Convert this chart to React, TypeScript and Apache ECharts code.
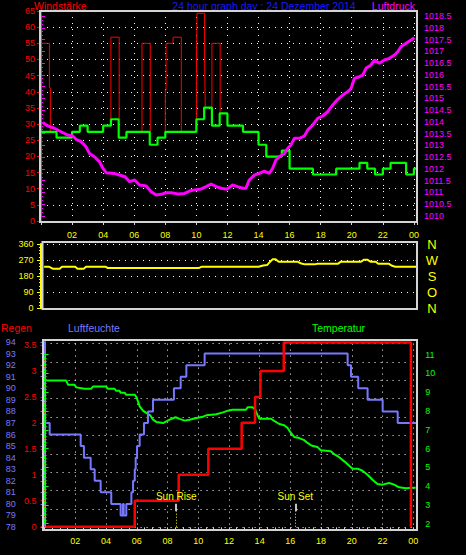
import React, { useEffect, useRef } from 'react';
import * as echarts from 'echarts';

// ---------- data (hours since midnight) ----------
const hourTicks = ['02', '04', '06', '08', '10', '12', '14', '16', '18', '20', '22', '00'];
const windTicks = [0, 5, 10, 15, 20, 25, 30, 35, 40, 45, 50, 55, 60, 65];
const directionLetters = ['N', 'O', 'S', 'W', 'N']; // 0, 90, 180, 270, 360

// Windstärke (mean, green step)
const windAvg: [number, number][] = [
  [0, 27.6], [1, 25.8], [2, 27.6], [2.5, 29.5], [3, 27.6], [4, 29.5], [4.5, 31.5], [5, 25.8],
  [5.5, 27.6], [7, 23.6], [7.5, 25.8], [8, 27.6], [10, 31.5], [10.5, 35.1], [11, 29.5],
  [11.5, 33.3], [12, 29.5], [13, 27.6], [14, 23.6], [14.5, 19.9], [15.5, 21.8], [16, 16.2],
  [17.5, 14.4], [19, 16.2], [20.5, 18.0], [21, 16.2], [21.5, 14.4], [22, 16.2], [22.5, 18.0],
  [23.5, 14.4], [24, 16.2], [24.2, 16.2],
];

// Windstärke gusts (red thin step), only the parts above the mean
const gustSegments: [number, number][][] = [
  [[0, 55], [0.54, 41.3], [0.6, 27.6]],
  [[4.5, 31.5], [4.5, 56.9], [5.03, 31.5]],
  [[6.5, 27.6], [6.5, 55], [7.03, 27.6]],
  [[8.0, 27.6], [8.0, 40.5], [8.05, 55], [8.5, 56.9], [9.03, 27.6]],
  [[10.0, 31.5], [10.0, 45.7], [10.04, 64.3], [10.53, 49.8], [10.57, 35.1]],
  [[11.0, 35.1], [11.0, 55], [11.53, 33.3]],
];

// Luftdruck (hPa)
const pressure: [number, number][] = [
  [0.11, 1013.97], [0.43, 1013.83], [0.86, 1013.73], [1.29, 1013.58], [1.72, 1013.44], [2.04, 1013.4],
  [2.26, 1013.26], [2.58, 1013.16], [2.9, 1012.94], [3.12, 1012.66], [3.44, 1012.52], [3.76, 1012.31],
  [3.98, 1012.03], [4.19, 1011.84], [4.73, 1011.81], [5.05, 1011.74], [5.41, 1011.67], [5.7, 1011.46],
  [6.02, 1011.53], [6.34, 1011.32], [6.77, 1011.28], [7.09, 1011.03], [7.41, 1010.89], [7.73, 1010.92],
  [8.05, 1010.99], [8.38, 1010.99], [8.81, 1010.94], [9.24, 1010.96], [9.56, 1011.06], [9.88, 1011.11],
  [10.31, 1011.15], [10.63, 1011.25], [10.95, 1011.36], [11.28, 1011.25], [11.6, 1011.18], [11.98, 1011.14],
  [12.33, 1011.32], [12.65, 1011.25], [12.98, 1011.18], [13.19, 1011.18], [13.4, 1011.53], [13.73, 1011.74],
  [14.05, 1011.81], [14.37, 1011.91], [14.69, 1011.81], [14.91, 1012.03], [15.12, 1012.38], [15.34, 1012.52],
  [15.66, 1012.66], [15.88, 1012.88], [16.09, 1013.02], [16.3, 1013.3], [16.62, 1013.3], [16.95, 1013.4],
  [17.17, 1013.66], [17.49, 1013.87], [17.81, 1014.15], [18.13, 1014.25], [18.45, 1014.43], [18.78, 1014.72],
  [19.1, 1014.96], [19.42, 1015.14], [19.74, 1015.28], [19.96, 1015.43], [20.17, 1015.85], [20.49, 1015.92],
  [20.71, 1015.99], [20.92, 1016.28], [21.24, 1016.42], [21.46, 1016.63], [21.78, 1016.49], [22.1, 1016.63],
  [22.42, 1016.7], [22.75, 1016.84], [22.96, 1016.98], [23.18, 1017.2], [23.5, 1017.34], [23.82, 1017.48],
  [24.03, 1017.58],
];

// Windrichtung (degrees)
const direction: [number, number][] = [
  [0.2, 233], [0.5, 233], [0.75, 222], [1.2, 222], [1.35, 233], [2.2, 233], [2.35, 222], [2.75, 222],
  [2.9, 233], [4.15, 233], [4.3, 225], [10.15, 225], [10.35, 233], [14.0, 233], [14.3, 240], [14.55, 242],
  [14.75, 261], [14.9, 274], [15.1, 274], [15.3, 261], [16.5, 261], [16.75, 251], [17.0, 246], [17.6, 246],
  [17.8, 249], [19.1, 249], [19.3, 261], [20.6, 261], [20.8, 272], [21.0, 272], [21.2, 261], [21.55, 261],
  [21.7, 249], [22.4, 249], [22.6, 238], [22.8, 233], [24.2, 233],
];

// Regen (mm, cumulative)
const rain: [number, number][] = [
  [0.1, 0], [5.87, 0.5], [8.73, 1.0], [10.66, 1.5], [12.83, 2.0], [13.7, 2.5], [14.05, 3.0],
  [15.57, 3.55], [23.85, 0],
];

// Luftfeuchte (%)
const humidity: [number, number][] = [
  [0.1, 87], [0.33, 86], [2.35, 85], [2.56, 84], [3.0, 83], [3.26, 82], [3.65, 81], [4.34, 80],
  [4.95, 79], [5.1, 80], [5.15, 79], [5.32, 80], [5.65, 81], [5.76, 82], [5.87, 83], [5.93, 84],
  [6.02, 85], [6.19, 86], [6.47, 87], [6.73, 88], [7.06, 89], [8.42, 90], [8.86, 91], [9.23, 92],
  [10.42, 93], [19.73, 92], [19.95, 91], [20.42, 90], [21.03, 89], [22.01, 88], [22.99, 87], [24.18, 87],
];

// Temperatur (°C)
const temperature: [number, number][] = [
  [0.1, 9.62], [1.41, 9.62], [1.52, 9.4], [1.95, 9.4], [2.06, 9.26], [2.6, 9.19], [3.04, 9.19], [3.15, 9.3],
  [4.02, 9.3], [4.1, 9.19], [4.56, 9.19], [4.65, 9.08], [4.88, 9.08], [4.95, 8.98], [5.21, 8.98], [5.3, 8.87],
  [5.86, 8.87], [5.97, 8.75], [6.08, 8.52], [6.19, 8.25], [6.4, 8.02], [6.62, 7.9], [6.88, 7.77], [7.06, 7.54],
  [7.27, 7.42], [7.71, 7.36], [8.14, 7.54], [8.53, 7.67], [8.79, 7.58], [9.12, 7.49], [9.44, 7.54], [9.88, 7.63],
  [10.31, 7.7], [10.53, 7.77], [11.18, 7.83], [11.61, 7.93], [11.94, 8.02], [12.24, 8.07], [13.11, 8.07],
  [13.22, 8.2], [13.54, 8.2], [13.72, 8.07], [13.87, 7.77], [13.98, 7.59], [14.74, 7.59], [14.95, 7.48],
  [15.28, 7.31], [15.6, 7.24], [15.82, 7.1], [16.04, 6.83], [16.25, 6.62], [16.58, 6.56], [16.9, 6.45],
  [17.12, 6.3], [17.4, 6.15], [17.77, 6.08], [17.98, 5.91], [18.64, 5.86], [18.85, 5.7], [19.18, 5.54],
  [19.51, 5.32], [19.83, 5.09], [20.05, 4.93], [20.37, 4.93], [20.7, 4.82], [21.02, 4.61], [21.35, 4.34],
  [21.67, 4.12], [22.0, 4.08], [22.43, 4.17], [22.76, 4.08], [23.08, 3.94], [23.52, 3.89], [23.95, 3.91],
  [24.16, 3.91],
];

const sunRise = 8.57;
const sunSet = 16.32;

// ---------- styling ----------
const FONT = '"Liberation Sans Narrow", "Liberation Sans", sans-serif';
const HFONT = '"Liberation Sans", sans-serif';
const RED = '#ff0000';
const MAGENTA = '#ff00ff';
const YELLOW = '#ffff00';
const GREEN = '#00ff00';
const BLUE = '#7878ff';
const TITLE_BLUE = '#1818ff';
const BORDER = '#d4d4d4';
const DOTS = { color: '#ffffff', width: 1, type: [1, 5] as number[] };

const hourLabel = (v: number) => (v === 0 ? '' : hourTicks[Math.round(v / 2) - 1] ?? '');
const plain = (v: number) => String(Math.round(v * 10) / 10);

function hiddenX(gridIndex: number, max: number) {
  return { type: 'value', gridIndex, min: 0, max, show: false };
}

function sideAxis(gridIndex: number, color: string, min: number, max: number, interval: number,
  position: 'left' | 'right', offset: number, minorSplit: number, extra: any = {}) {
  return {
    type: 'value', gridIndex, min, max, interval, position, offset,
    axisLine: { show: true, lineStyle: { color, width: 2 } },
    axisTick: { show: true, length: 4, lineStyle: { color } },
    minorTick: { show: true, splitNumber: minorSplit, length: 2, lineStyle: { color } },
    axisLabel: { color, fontFamily: FONT, fontSize: 9, margin: 6, formatter: plain },
    splitLine: { show: false },
    ...extra,
  };
}

function sunMarker(t: number, name: string) {
  return [
    [
      { coord: [t, 0.297], lineStyle: { color: '#ffffff', width: 1.5, type: 'solid' },
        label: { show: true, position: 'end', formatter: name, color: YELLOW, fontFamily: FONT, fontSize: 10, distance: 2 } },
      { coord: [t, 0.443] },
    ],
    [
      { coord: [t, 0], lineStyle: { color: YELLOW, width: 1, type: [1, 2] }, label: { show: false } },
      { coord: [t, 0.297] },
    ],
  ];
}

export default function App() {
  const ref = useRef<HTMLDivElement>(null);

  useEffect(() => {
    if (!ref.current) return;
    const chart = echarts.init(ref.current, undefined, { renderer: 'svg' });

    const X_TOP = 24.2;
    const X_BOT = 24.26;

    const option: any = {
      animation: false,
      backgroundColor: '#000000',
      grid: [
        { left: 41, right: 49, top: 11, height: 210 },       // 0 wind
        { left: 41, right: 49, top: 16, height: 200 },       // 1 pressure
        { left: 41, right: 49, top: 244, height: 64.3 },     // 2 direction
        { left: 44.6, right: 48.8, top: 345, height: 181.7 }, // 3 rain
        { left: 44.6, right: 48.8, top: 342, height: 185 },   // 4 humidity
        { left: 44.6, right: 48.8, top: 354.7, height: 169 }, // 5 temperature
        { left: 44.6, right: 48.8, top: 343.6, height: 183.7 }, // 6 grid dots + hour labels
      ],
      xAxis: [
        {
          type: 'value', gridIndex: 0, min: 0, max: X_TOP, interval: 2,
          axisLine: { show: false },
          axisTick: { show: true, length: 4, lineStyle: { color: BORDER } },
          minorTick: { show: true, splitNumber: 4, length: 2, lineStyle: { color: BORDER } },
          axisLabel: { color: YELLOW, fontFamily: FONT, fontSize: 9, margin: 9, formatter: hourLabel, showMaxLabel: false },
          splitLine: { show: true, lineStyle: DOTS },
        },
        hiddenX(1, X_TOP),
        hiddenX(2, X_TOP),
        hiddenX(3, X_BOT),
        hiddenX(4, X_BOT),
        hiddenX(5, X_BOT),
        {
          type: 'value', gridIndex: 6, min: 0, max: X_BOT, interval: 2, offset: 2.7,
          axisLine: { show: false },
          axisTick: { show: true, length: 3, lineStyle: { color: BORDER } },
          minorTick: { show: true, splitNumber: 4, length: 2, lineStyle: { color: BORDER } },
          axisLabel: { color: YELLOW, fontFamily: FONT, fontSize: 9, margin: 6, formatter: hourLabel, showMaxLabel: false },
          splitLine: { show: true, lineStyle: DOTS },
        },
      ],
      yAxis: [
        sideAxis(0, RED, 0, 65, 5, 'left', 0, 5, {
          splitLine: { show: true, lineStyle: DOTS },
          axisLabel: { color: RED, fontFamily: FONT, fontSize: 9, margin: 6, formatter: (v: number) => String(windTicks[Math.round(v / 5)]) },
        }),
        sideAxis(1, MAGENTA, 1010, 1018.5, 0.5, 'right', 1, 3),
        sideAxis(2, YELLOW, 0, 360, 90, 'left', 1.5, 5, { splitLine: { show: true, lineStyle: DOTS } }),
        {
          type: 'value', gridIndex: 2, min: 0, max: 360, interval: 90, position: 'right',
          axisLine: { show: false }, axisTick: { show: false }, splitLine: { show: false },
          axisLabel: {
            color: YELLOW, fontFamily: HFONT, fontSize: 13, margin: 15, align: 'center',
            formatter: (v: number) => directionLetters[Math.round(v / 90)],
          },
        },
        sideAxis(3, RED, 0, 3.5, 0.5, 'left', 2, 5),
        sideAxis(4, BLUE, 78, 94, 1, 'left', 22.9, 4),
        sideAxis(5, GREEN, 2, 11, 1, 'right', 2, 6),
        {
          type: 'value', gridIndex: 6, min: 0, max: 10, interval: 1,
          axisLine: { show: false }, axisTick: { show: false }, axisLabel: { show: false },
          splitLine: { show: true, lineStyle: DOTS },
        },
      ],
      series: [
        ...gustSegments.map((seg) => ({
          type: 'line', xAxisIndex: 0, yAxisIndex: 0, step: 'end', data: seg,
          showSymbol: false, silent: true, z: 2,
          lineStyle: { color: RED, width: 1 },
        })),
        {
          type: 'line', xAxisIndex: 0, yAxisIndex: 0, step: 'end', data: windAvg,
          showSymbol: false, silent: true, z: 3, lineStyle: { color: GREEN, width: 2.2 },
        },
        {
          type: 'line', xAxisIndex: 1, yAxisIndex: 1, data: pressure,
          showSymbol: false, silent: true, z: 4, lineStyle: { color: MAGENTA, width: 3 },
        },
        {
          type: 'line', xAxisIndex: 2, yAxisIndex: 2, data: direction,
          showSymbol: false, silent: true, z: 3, lineStyle: { color: YELLOW, width: 2 },
        },
        {
          type: 'line', xAxisIndex: 5, yAxisIndex: 6, data: temperature,
          showSymbol: false, silent: true, z: 3, lineStyle: { color: GREEN, width: 2 },
        },
        {
          type: 'line', xAxisIndex: 4, yAxisIndex: 5, step: 'end', data: humidity,
          showSymbol: false, silent: true, z: 3, lineStyle: { color: BLUE, width: 2 },
        },
        {
          type: 'line', xAxisIndex: 3, yAxisIndex: 4, step: 'end', data: rain, clip: false,
          showSymbol: false, silent: true, z: 4, lineStyle: { color: RED, width: 2.5 },
          markLine: {
            silent: true, symbol: ['none', 'none'], animation: false,
            data: [...sunMarker(sunRise, 'Sun Rise'), ...sunMarker(sunSet, 'Sun Set')],
          },
        },
      ],
      graphic: [
        { type: 'rect', shape: { x: 40, y: 11, width: 377, height: 211 }, style: { fill: 'none', stroke: BORDER, lineWidth: 2 }, z: 10, silent: true },
        { type: 'rect', shape: { x: 42.5, y: 242, width: 374.5, height: 67 }, style: { fill: 'none', stroke: BORDER, lineWidth: 2 }, z: 10, silent: true },
        { type: 'rect', shape: { x: 43, y: 340, width: 374, height: 190 }, style: { fill: 'none', stroke: BORDER, lineWidth: 2 }, z: 10, silent: true },
        { type: 'text', x: 34, y: 6, style: { text: 'Windstärke', fill: RED, font: `10.5px ${HFONT}`, textVerticalAlign: 'middle' } },
        { type: 'text', x: 264, y: 6, style: { text: '24 hour graph day : 24 Dezember 2014', fill: TITLE_BLUE, font: `10.5px ${HFONT}`, textAlign: 'center', textVerticalAlign: 'middle' } },
        { type: 'text', x: 415, y: 6, style: { text: 'Luftdruck', fill: MAGENTA, font: `10.5px ${HFONT}`, textAlign: 'right', textVerticalAlign: 'middle' } },
        { type: 'text', x: 1, y: 327.5, style: { text: 'Regen', fill: RED, font: `10.5px ${HFONT}`, textVerticalAlign: 'middle' } },
        { type: 'text', x: 68, y: 327.5, style: { text: 'Luftfeuchte', fill: BLUE, font: `10.5px ${HFONT}`, textVerticalAlign: 'middle' } },
        { type: 'text', x: 312, y: 327.5, style: { text: 'Temperatur', fill: GREEN, font: `10.5px ${HFONT}`, textVerticalAlign: 'middle' } },
      ],
    };

    chart.setOption(option);
    return () => chart.dispose();
  }, []);

  return <div ref={ref} style={{ width: 466, height: 555, position: 'absolute', left: 0, top: 0 }} />;
}
